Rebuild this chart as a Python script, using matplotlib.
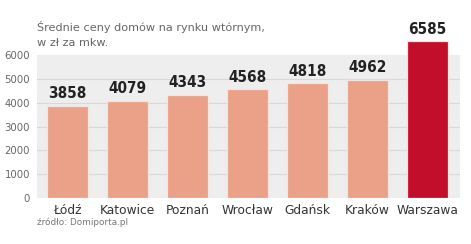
import matplotlib
matplotlib.use("Agg")
import matplotlib.pyplot as plt

cities = ["Łódź", "Katowice", "Poznań", "Wrocław", "Gdańsk", "Kraków", "Warszawa"]
prices = [3858, 4079, 4343, 4568, 4818, 4962, 6585]
yticks = [0, 1000, 2000, 3000, 4000, 5000, 6000]
title_lines = ["Średnie ceny domów na rynku wtórnym,", "w zł za mkw."]
source = "źródło: Domiporta.pl"

W, H = 471, 244
fig = plt.figure(figsize=(W / 100, H / 100), dpi=100)
fig.patch.set_facecolor("white")

left, right = 37, 460
y0 = 198
ppu = 23.8 / 1000
ymax = 6800
top_px = y0 - ymax * ppu
ax = fig.add_axes([left / W, 1 - y0 / H, (right - left) / W, (y0 - top_px) / H])
ax.set_xlim(-0.51, 6.54)
ax.set_ylim(0, ymax)
ax.patch.set_visible(False)

ax.axhspan(0, 6000, color="#eeeeee", zorder=0, lw=0)
for t in yticks[1:-1]:
    ax.axhline(t, color="#d8d8d8", lw=0.8, zorder=1)

colors = ["#eba187"] * 6 + ["#c20e2b"]
x = list(range(len(cities)))
ax.bar(x, prices, width=0.69, color=colors, edgecolor="#f3e4e0", linewidth=0.9, zorder=2)

for xi, v in zip(x, prices):
    ax.text(xi, v + 200, str(v), ha="center", va="bottom", fontsize=11,
            fontweight="bold", fontstretch="condensed", family="DejaVu Sans",
            color="#222222")

ax.set_xticks(x)
ax.set_xticklabels(cities, fontsize=8.8, color="#333333")
ax.set_yticks(yticks)
ax.set_yticklabels([str(t) for t in yticks], fontsize=7.3, color="#666666")
ax.tick_params(axis="both", length=0)
ax.tick_params(axis="x", pad=4)
ax.tick_params(axis="y", pad=5)
for s in ax.spines.values():
    s.set_visible(False)

for i, line in enumerate(title_lines):
    fig.text(37 / W, 1 - (27 + 16 * i) / H, line, ha="left", va="center",
             fontsize=8.1, color="#666666")
fig.text(37 / W, 1 - 222 / H, source, ha="left", va="center", fontsize=6.4,
         color="#777777")

fig.savefig("out.png", dpi=100)
